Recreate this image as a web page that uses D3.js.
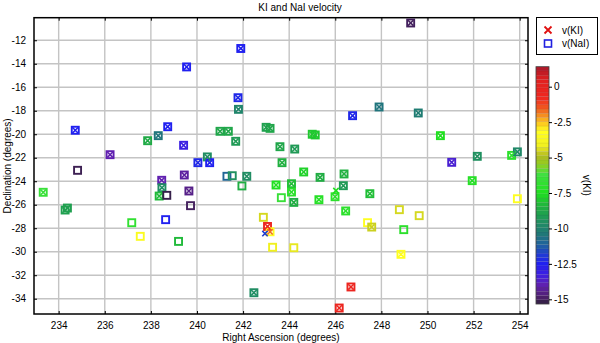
<!DOCTYPE html>
<html><head><meta charset="utf-8">
<script src="https://cdn.jsdelivr.net/npm/d3@7"></script>
<style>
html,body{margin:0;padding:0;background:#fff;}
svg{display:block;font-family:"Liberation Sans",Arial,sans-serif;}
</style></head>
<body><svg id="c" width="600" height="343"></svg>
<script>
// ---- data: [RA (deg), Dec (deg), velocity] ----
const naiPoints = [
 [241.9,-12.7,-12.5],[239.55,-14.27,-12.5],[241.78,-16.89,-12.3],[241.8,-17.88,-9.9],
 [234.72,-19.66,-12.5],[238.73,-19.36,-12.5],[238.32,-20.12,-10.5],[237.86,-20.55,-8.7],
 [239.42,-20.94,-13.2],[241.0,-19.75,-8.8],[241.36,-19.75,-8.8],[241.68,-20.6,-9.2],
 [243.0,-19.41,-9.0],[243.17,-19.5,-8.8],[243.6,-21.06,-8.8],[236.23,-21.74,-14.0],
 [240.45,-21.93,-9.6],[240.04,-22.42,-12.3],[240.55,-22.42,-12.5],[243.69,-22.42,-8.5],
 [249.27,-10.53,-15.0],[246.75,-18.42,-12.3],[247.9,-17.68,-10.5],[249.6,-18.19,-10.2],
 [245.0,-20.0,-8.0],[245.13,-20.06,-8.0],[244.24,-21.26,-9.2],[250.56,-20.12,-7.5],
 [251.05,-22.39,-13.5],[252.16,-21.88,-9.5],[253.65,-21.8,-7.0],[253.9,-21.5,-9.8],
 [234.82,-23.07,-15.1],[233.33,-24.94,-6.5],[234.28,-26.45,-9.0],[234.38,-26.28,-9.0],
 [237.17,-27.53,-6.8],[237.54,-28.69,-3.5],[238.47,-23.92,-14.0],[238.48,-24.55,-9.6],
 [238.36,-25.26,-8.3],[238.69,-25.2,-15.2],[239.45,-23.47,-14.2],[239.65,-24.83,-14.5],
 [239.72,-26.08,-15.0],[238.64,-27.27,-12.5],[239.2,-29.12,-8.3],[241.3,-23.58,-11.0],
 [241.53,-23.53,-9.5],[242.16,-23.58,-9.6],[241.95,-24.4,-8.6],[243.43,-24.32,-7.5],
 [243.66,-25.4,-6.5],[242.88,-27.07,-4.5],[243.06,-27.85,-0.5],[243.17,-28.3,-3.3],
 [243.28,-29.62,-4.2],[242.47,-33.49,-9.6],[244.1,-24.21,-8.2],[244.1,-24.92,-7.0],
 [244.2,-25.8,-8.6],[244.63,-23.21,-7.8],[245.34,-23.67,-8.6],[245.29,-25.57,-7.2],
 [246.38,-23.38,-8.5],[246.35,-24.38,-9.2],[245.99,-25.32,-7.0],[247.5,-25.06,-8.2],
 [246.45,-26.53,-7.0],[247.4,-27.53,-3.3],[247.58,-27.9,-4.6],[248.78,-26.42,-4.5],
 [249.64,-26.93,-4.5],[248.97,-28.12,-7.0],[248.85,-30.22,-3.3],[244.2,-29.66,-4.3],
 [246.68,-33.0,-0.5],[246.17,-34.79,-0.5],[251.94,-23.95,-7.2],[253.9,-25.49,-3.3]
];
const kiPoints = [
 [241.9,-12.7,-12.5],[239.55,-14.27,-12.5],[241.78,-16.89,-12.3],[241.8,-17.88,-9.9],
 [234.72,-19.66,-12.5],[238.73,-19.36,-12.5],[238.32,-20.12,-10.5],[237.86,-20.55,-8.7],
 [239.42,-20.94,-13.2],[241.0,-19.75,-8.8],[241.36,-19.75,-8.8],[241.68,-20.6,-9.2],
 [243.0,-19.41,-9.0],[243.17,-19.5,-8.8],[243.6,-21.06,-8.8],[236.23,-21.74,-14.0],
 [240.45,-21.93,-9.6],[240.04,-22.42,-12.3],[240.55,-22.42,-12.5],[243.69,-22.42,-8.5],
 [249.27,-10.53,-15.0],[246.75,-18.42,-12.3],[247.9,-17.68,-10.5],[249.6,-18.19,-10.2],
 [245.0,-20.0,-8.0],[245.13,-20.06,-8.0],[244.24,-21.26,-9.2],[250.56,-20.12,-7.5],
 [251.05,-22.39,-13.5],[252.16,-21.88,-9.5],[253.65,-21.8,-7.0],[253.9,-21.5,-9.8],
 [233.33,-24.94,-6.5],[234.28,-26.45,-9.0],[234.38,-26.28,-9.0],
 [238.47,-23.92,-14.0],[238.48,-24.55,-9.6],[238.36,-25.26,-8.3],
 [239.45,-23.47,-14.2],[239.65,-24.83,-14.5],[242.16,-23.58,-9.6],[243.43,-24.32,-7.5],
 [242.95,-28.45,-11.8],[243.06,-27.85,-0.5],[243.17,-28.3,-1.8],[242.47,-33.49,-9.6],
 [244.1,-24.21,-8.2],[244.1,-24.92,-7.0],[244.2,-25.8,-8.6],[244.63,-23.21,-7.8],
 [245.34,-23.67,-8.6],[245.29,-25.57,-7.2],[246.38,-23.38,-8.5],[246.35,-24.38,-9.2],
 [245.99,-25.32,-7.0],[246.03,-24.8,-7.5],[247.5,-25.06,-8.2],[246.45,-26.53,-7.0],
 [247.58,-27.9,-4.6],[248.85,-30.22,-3.3],[246.68,-33.0,-0.5],[246.17,-34.79,-0.5],
 [251.94,-23.95,-7.2]
];
const xTicks = [234,236,238,240,242,244,246,248,250,252,254];
const yTicks = [-12,-14,-16,-18,-20,-22,-24,-26,-28,-30,-32,-34];
const cbTicks = [0,-2.5,-5,-7.5,-10,-12.5,-15];
const titleText = "KI and NaI velocity";
const xLabel = "Right Ascension (degrees)";
const yLabel = "Declination (degrees)";
const cbLabel = "v(KI)";
const legendLabels = ["v(KI)","v(NaI)"];

// colormap
const cmapStops = [1.4,0.5,-0.8,-1.6,-2.2,-2.8,-3.2,-4.2,-4.9,-5.5,-6.2,-7.5,-8.5,-9.5,-10.4,-11.2,-11.9,-12.5,-13.3,-14.0,-14.8,-15.3];
const cmapColors = ["#a8182a","#e02020","#f02820","#f06020","#f8a020","#ffe020","#ffff20","#f0f020","#b0b820","#90d020","#40e040","#20e020","#20b040","#209060","#207878","#2060a0","#2038d8","#2020f0","#4020e0","#6020b0","#502070","#302040"];
const color = d3.scaleLinear().domain(cmapStops).range(cmapColors).clamp(true);

const svg = d3.select("#c");
const L=34,R=528,T=17.7,B=314;
const x = d3.scaleLinear().domain([232.93,254.36]).range([L,R]);
const y = d3.scaleLinear().domain([-35.3,-10.08]).range([B,T]);

// grid
const g = svg.append("g");
g.selectAll(".gx").data(xTicks).enter().append("line")
 .attr("x1",d=>x(d)).attr("x2",d=>x(d)).attr("y1",T).attr("y2",B)
 .attr("stroke","#c4c4c4").attr("stroke-width",1.4);
g.selectAll(".gy").data(yTicks).enter().append("line")
 .attr("y1",d=>y(d)).attr("y2",d=>y(d)).attr("x1",L).attr("x2",R)
 .attr("stroke","#c4c4c4").attr("stroke-width",1.4);

// axes
const fs = "10px";
const xAxB = d3.axisBottom(x).tickValues(xTicks).tickSizeInner(-3).tickSizeOuter(0).tickPadding(8).tickFormat(d3.format("d"));
const xAxT = d3.axisTop(x).tickValues(xTicks).tickSizeInner(-3).tickSizeOuter(0).tickFormat("");
const yAxL = d3.axisLeft(y).tickValues(yTicks).tickSizeInner(-3).tickSizeOuter(0).tickPadding(8).tickFormat(d=>String(d));
const yAxR = d3.axisRight(y).tickValues(yTicks).tickSizeInner(-3).tickSizeOuter(0).tickFormat("");
function styleAx(sel){
  sel.select(".domain").remove();
  sel.selectAll(".tick line").attr("stroke","#000").attr("stroke-width",1);
  sel.selectAll(".tick text").attr("fill","#000").style("font-size",fs).style("font-family","Liberation Sans, Arial, sans-serif");
}
svg.append("g").attr("transform",`translate(0,${B})`).call(xAxB).call(styleAx);
svg.append("g").attr("transform",`translate(0,${T})`).call(xAxT).call(styleAx);
svg.append("g").attr("transform",`translate(${L},0)`).call(yAxL).call(styleAx);
svg.append("g").attr("transform",`translate(${R},0)`).call(yAxR).call(styleAx);
svg.append("rect").attr("x",L).attr("y",T).attr("width",R-L).attr("height",B-T)
 .attr("fill","none").attr("stroke","#000").attr("stroke-width",1.5);

// markers
const S=3.5;
const pts = svg.append("g");
pts.selectAll("rect.nai").data(naiPoints).enter().append("rect")
 .attr("x",d=>x(d[0])-S).attr("y",d=>y(d[1])-S).attr("width",2*S).attr("height",2*S)
 .attr("fill","none").attr("stroke",d=>color(d[2])).attr("stroke-width",1.9);
const X=2.7;
pts.selectAll("path.ki").data(kiPoints).enter().append("path")
 .attr("d",d=>{const cx=x(d[0]),cy=y(d[1]);return `M${cx-X},${cy-X}L${cx+X},${cy+X}M${cx-X},${cy+X}L${cx+X},${cy-X}`;})
 .attr("fill","none").attr("stroke",d=>color(d[2])).attr("stroke-width",1.6);

// title & labels
svg.append("text").attr("x",300).attr("y",11).attr("text-anchor","middle").style("font-size",fs).text(titleText);
svg.append("text").attr("x",(L+R)/2).attr("y",341).attr("text-anchor","middle").style("font-size",fs).text(xLabel);
svg.append("text").attr("transform",`translate(11,${(T+B)/2}) rotate(-90)`).attr("text-anchor","middle").style("font-size",fs).text(yLabel);

// legend
const lg = svg.append("g");
lg.append("rect").attr("x",536.5).attr("y",17.5).attr("width",61).attr("height",37).attr("fill","#fff").attr("stroke","#000").attr("stroke-width",1);
lg.append("path").attr("d","M544.5,26.5L551.5,33.5M544.5,33.5L551.5,26.5").attr("stroke","#e01010").attr("stroke-width",1.8).attr("fill","none");
lg.append("rect").attr("x",544.5).attr("y",40).attr("width",7).attr("height",7).attr("fill","none").attr("stroke","#2020e0").attr("stroke-width",1.6);
lg.append("text").attr("x",562).attr("y",33.5).style("font-size",fs).text(legendLabels[0]);
lg.append("text").attr("x",562).attr("y",47).style("font-size",fs).text(legendLabels[1]);

// colorbar
const cbX=536, cbW=13, cbT=66.7, cbB=304;
const cy = d3.scaleLinear().domain([-15.33,1.41]).range([cbB,cbT]);
const nB = 56, dv = (1.41+15.33)/nB;
const bands = d3.range(nB).map(i=>-15.33+i*dv);
const cb = svg.append("g");
cb.selectAll("rect").data(bands).enter().append("rect")
 .attr("x",cbX).attr("width",cbW).attr("y",d=>cy(d+dv)).attr("height",d=>cy(d)-cy(d+dv))
 .attr("fill",d=>color(d+dv/2)).attr("stroke","rgba(0,0,0,0.12)").attr("stroke-width",0.4);
cb.append("rect").attr("x",cbX).attr("y",cbT).attr("width",cbW).attr("height",cbB-cbT).attr("fill","none").attr("stroke","#444").attr("stroke-width",0.8);
const cbAx = d3.axisRight(cy).tickValues(cbTicks).tickSize(3).tickPadding(2).tickFormat(d=>String(d));
svg.append("g").attr("transform",`translate(${cbX+cbW},0)`).call(cbAx).call(styleAx);
svg.append("text").attr("transform",`translate(583,${(cbT+cbB)/2}) rotate(90)`).attr("text-anchor","middle").style("font-size",fs).text(cbLabel);
</script></body></html>
